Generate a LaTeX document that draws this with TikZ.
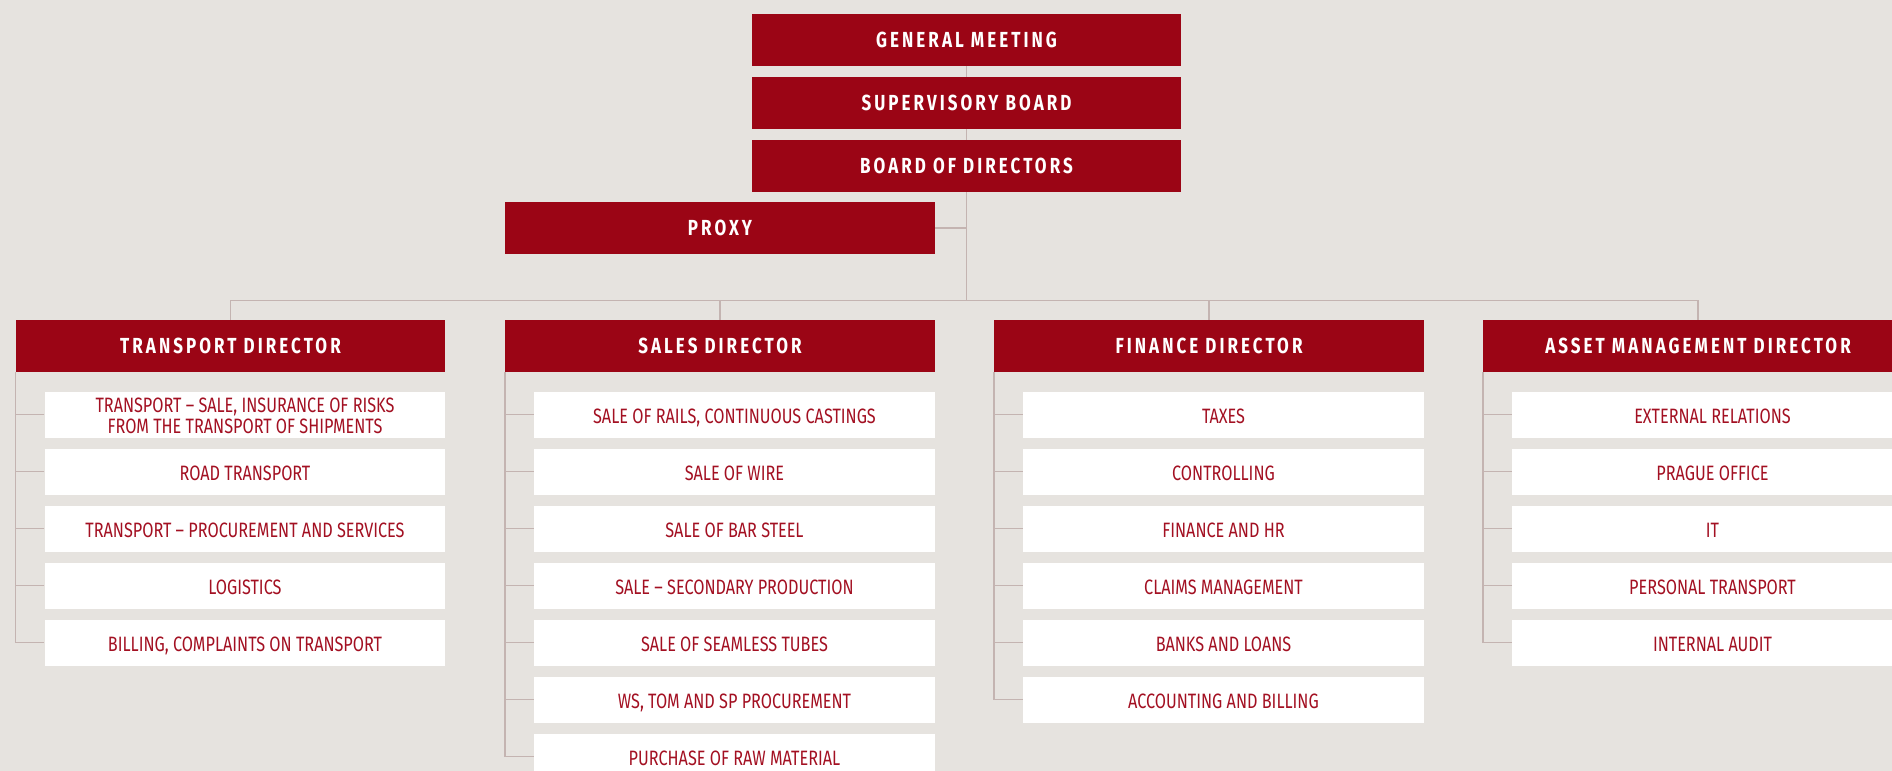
\documentclass[tikz,border=0pt]{standalone}
\usepackage{fontspec}
\setmainfont[FakeStretch=0.78]{Fira Sans}
\newfontfamily\headfamily[FakeStretch=0.78, LetterSpace=14]{Fira Sans}
\definecolor{chartbg}{RGB}{230,227,223}
\definecolor{chartred}{RGB}{155,5,21}
\definecolor{unitred}{RGB}{163,16,34}
\definecolor{linegrey}{RGB}{196,180,177}
\newcommand{\headfont}{\headfamily\fontsize{10.9}{12}\selectfont\bfseries}
\newcommand{\unitfont}{\fontsize{10.4}{10.6}\selectfont}

\begin{document}
\begin{tikzpicture}
  [x=0.5pt, y=-0.5pt,
   head/.style={fill=chartred, text=white, inner sep=0pt, minimum width=214.75pt, minimum height=25.75pt, font=\headfont},
   unit/.style={fill=white, text=unitred, inner sep=0pt, minimum width=200.25pt, minimum height=23pt, align=center, font=\unitfont, text height=8.5pt, text depth=0pt},
   link/.style={draw=linegrey, line width=0.75pt}]

  \path[use as bounding box, fill=chartbg] (0,0) rectangle (1892,771);

  \node[head] (gm)    at (966.5,40)  {GENERAL MEETING};
  \node[head] (sb)    at (966.5,103) {SUPERVISORY BOARD};
  \node[head] (bod)   at (966.5,166) {BOARD OF DIRECTORS};
  \node[head] (proxy) at (720,228)   {PROXY};
  \coordinate (hub) at (966.5,300.5);

  \node[head] (d1) at (230.5,346) {TRANSPORT DIRECTOR};
  \node[head] (d2) at (720,346)   {SALES DIRECTOR};
  \node[head] (d3) at (1209,346)  {FINANCE DIRECTOR};
  \node[head] (d4) at (1698,346)  {ASSET MANAGEMENT DIRECTOR};

  \draw[link] (gm) -- (sb);
  \draw[link] (sb) -- (bod);
  \draw[link] (bod) -- (hub);
  \draw[link] (proxy.east) -- (proxy.east -| hub);
  \foreach \d in {d1,d2,d3,d4}
    \draw[link] (hub) -| (\d.north);

  \node[unit, text height=19.1pt] (t1) at (245,414.5)
    {TRANSPORT – SALE, INSURANCE OF RISKS\\FROM THE TRANSPORT OF SHIPMENTS};
  \foreach \i/\txt in {2/{ROAD TRANSPORT},
                       3/{TRANSPORT – PROCUREMENT AND SERVICES},
                       4/{LOGISTICS},
                       5/{BILLING, COMPLAINTS ON TRANSPORT}}
    \node[unit] (t\i) at (245,357.5+57*\i) {\txt};

  \foreach \i/\txt in {1/{SALE OF RAILS, CONTINUOUS CASTINGS},
                       2/{SALE OF WIRE},
                       3/{SALE OF BAR STEEL},
                       4/{SALE – SECONDARY PRODUCTION},
                       5/{SALE OF SEAMLESS TUBES},
                       6/{WS, TOM AND SP PROCUREMENT},
                       7/{PURCHASE OF RAW MATERIAL}}
    \node[unit] (s\i) at (734.5,357.5+57*\i) {\txt};

  \foreach \i/\txt in {1/{TAXES},
                       2/{CONTROLLING},
                       3/{FINANCE AND HR},
                       4/{CLAIMS MANAGEMENT},
                       5/{BANKS AND LOANS},
                       6/{ACCOUNTING AND BILLING}}
    \node[unit] (f\i) at (1223.5,357.5+57*\i) {\txt};

  \foreach \i/\txt in {1/{EXTERNAL RELATIONS},
                       2/{PRAGUE OFFICE},
                       3/{IT},
                       4/{PERSONAL TRANSPORT},
                       5/{INTERNAL AUDIT}}
    \node[unit] (a\i) at (1712.5,357.5+57*\i) {\txt};

  \draw[link] (d1.south west) |- (t5.west);
  \draw[link] (d2.south west) |- (s7.west);
  \draw[link] (d3.south west) |- (f6.west);
  \draw[link] (d4.south west) |- (a5.west);
  \foreach \u/\d in {t1/d1, t2/d1, t3/d1, t4/d1,
                     s1/d2, s2/d2, s3/d2, s4/d2, s5/d2, s6/d2,
                     f1/d3, f2/d3, f3/d3, f4/d3, f5/d3,
                     a1/d4, a2/d4, a3/d4, a4/d4}
    \draw[link] (\u.west) -- (\u.west -| \d.south west);
\end{tikzpicture}
\end{document}
